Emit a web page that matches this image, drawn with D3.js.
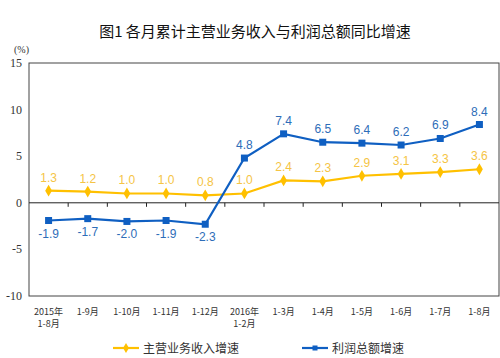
<!DOCTYPE html>
<html>
<head>
<meta charset="utf-8">
<script src="https://cdn.jsdelivr.net/npm/d3@7"></script>
<style>
  body { margin: 0; background: #fff; }
  svg { display: block; }
</style>
</head>
<body>
<svg id="chart"></svg>
<script>
var categories = ["2015年\n1-8月", "1-9月", "1-10月", "1-11月", "1-12月", "2016年\n1-2月",
  "1-3月", "1-4月", "1-5月", "1-6月", "1-7月", "1-8月"];
var revenueGrowth = [1.3, 1.2, 1.0, 1.0, 0.8, 1.0, 2.4, 2.3, 2.9, 3.1, 3.3, 3.6];
var profitGrowth = [-1.9, -1.7, -2.0, -1.9, -2.3, 4.8, 7.4, 6.5, 6.4, 6.2, 6.9, 8.4];
var yTicks = [15, 10, 5, 0, -5, -10];
var seriesNames = ["主营业务收入增速", "利润总额增速"];

var width = 500, height = 358;
// note: "top" is taken by window.top, so plot edges get their own names
var plotLeft = 29, plotRight = 499, plotTop = 63, plotBottom = 296;
var yellow = "#FFC000", blue = "#0F5FC2";
var yellowText = "#F5C445", blueText = "#2E6DB8";
var cjk = "'Noto Sans CJK SC', sans-serif";

var svg = d3.select("#chart").attr("width", width).attr("height", height);

var x = d3.scaleBand().domain(d3.range(categories.length)).range([plotLeft, plotRight]);
var y = d3.scaleLinear().domain([-10, 15]).range([plotBottom, plotTop]);

// title
svg.append("text")
  .attr("x", 255).attr("y", 37)
  .attr("text-anchor", "middle")
  .style("font-family", cjk).style("font-size", "15px").style("font-weight", "normal")
  .style("fill", "#111")
  .text("图1  各月累计主营业务收入与利润总额同比增速");

svg.append("text")
  .attr("x", 14).attr("y", 53)
  .style("font-family", "'Liberation Serif', serif").style("font-size", "10px")
  .style("fill", "#333")
  .text("(%)");

// frame
svg.append("rect")
  .attr("x", plotLeft).attr("y", plotTop)
  .attr("width", plotRight - plotLeft).attr("height", plotBottom - plotTop)
  .attr("fill", "none").attr("stroke", "#444").attr("stroke-width", 1);

// y tick labels
svg.append("g").selectAll("text")
  .data(yTicks).enter().append("text")
  .attr("x", 22).attr("y", function(d) { return y(d) + 4; })
  .attr("text-anchor", "end")
  .style("font-family", "'Liberation Serif', serif").style("font-size", "12px")
  .style("fill", "#333")
  .text(function(d) { return d; });

// zero line with category ticks
svg.append("line")
  .attr("x1", plotLeft).attr("x2", plotRight)
  .attr("y1", y(0)).attr("y2", y(0))
  .attr("stroke", "#222").attr("stroke-width", 1);
svg.append("g").selectAll("line")
  .data(d3.range(1, categories.length)).enter().append("line")
  .attr("x1", function(i) { return x(i); }).attr("x2", function(i) { return x(i); })
  .attr("y1", y(0)).attr("y2", y(0) + 4)
  .attr("stroke", "#222");

// x labels
var xl = svg.append("g").selectAll("text")
  .data(categories).enter().append("text")
  .attr("text-anchor", "middle")
  .style("font-family", cjk).style("font-size", "9px")
  .style("fill", "#333");
xl.each(function(d, i) {
  var t = d3.select(this);
  d.split("\n").forEach(function(line, k) {
    t.append("tspan")
      .attr("x", x(i) + x.bandwidth() / 2)
      .attr("y", 315 + k * 12)
      .text(line);
  });
});

var cx = function(d, i) { return x(i) + x.bandwidth() / 2; };
var line = d3.line().x(cx).y(function(d) { return y(d); });

// revenue line
svg.append("path").datum(revenueGrowth)
  .attr("d", line).attr("fill", "none")
  .attr("stroke", yellow).attr("stroke-width", 2.2);
svg.append("g").selectAll("path")
  .data(revenueGrowth).enter().append("path")
  .attr("d", d3.symbol().type(d3.symbolDiamond).size(40))
  .attr("transform", function(d, i) { return "translate(" + cx(d, i) + "," + y(d) + ")"; })
  .attr("fill", yellow);

// profit line
svg.append("path").datum(profitGrowth)
  .attr("d", line).attr("fill", "none")
  .attr("stroke", blue).attr("stroke-width", 2.2);
svg.append("g").selectAll("rect")
  .data(profitGrowth).enter().append("rect")
  .attr("x", function(d, i) { return cx(d, i) - 3.5; })
  .attr("y", function(d) { return y(d) - 3.5; })
  .attr("width", 7).attr("height", 7)
  .attr("fill", blue);

// data labels
svg.append("g").selectAll("text")
  .data(revenueGrowth).enter().append("text")
  .attr("x", cx).attr("y", function(d) { return y(d) - 9; })
  .attr("text-anchor", "middle")
  .style("font-family", "'Liberation Sans', Arial, sans-serif").style("font-size", "12px")
  .style("fill", yellowText)
  .text(function(d) { return d.toFixed(1); });

svg.append("g").selectAll("text")
  .data(profitGrowth).enter().append("text")
  .attr("x", cx).attr("y", function(d) { return d < 0 ? y(d) + 17 : y(d) - 9; })
  .attr("text-anchor", "middle")
  .style("font-family", "'Liberation Sans', Arial, sans-serif").style("font-size", "12px")
  .style("fill", blueText)
  .text(function(d) { return d.toFixed(1); });

// legend
var legend = svg.append("g");
var lg = [
  { x: 113, color: yellow, marker: "diamond" },
  { x: 302, color: blue, marker: "square" }
];
lg.forEach(function(item, k) {
  legend.append("line")
    .attr("x1", item.x).attr("x2", item.x + 26)
    .attr("y1", 348).attr("y2", 348)
    .attr("stroke", item.color).attr("stroke-width", 2.2);
  if (item.marker === "diamond") {
    legend.append("path")
      .attr("d", d3.symbol().type(d3.symbolDiamond).size(30))
      .attr("transform", "translate(" + (item.x + 13) + ",348)")
      .attr("fill", item.color);
  } else {
    legend.append("rect")
      .attr("x", item.x + 10.5).attr("y", 345.5)
      .attr("width", 5).attr("height", 5)
      .attr("fill", item.color);
  }
  legend.append("text")
    .attr("x", item.x + 30).attr("y", 352.5)
    .style("font-family", cjk).style("font-size", "12px")
    .style("fill", "#333")
    .text(seriesNames[k]);
});
</script>
</body>
</html>
